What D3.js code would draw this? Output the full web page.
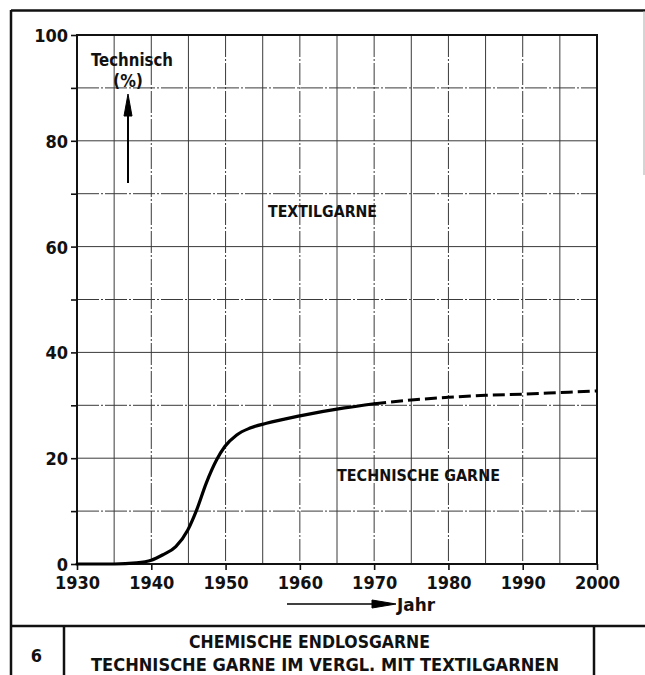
<!DOCTYPE html>
<html><head><meta charset="utf-8">
<script src="https://cdn.jsdelivr.net/npm/d3@7"></script>
<style>
html,body{margin:0;padding:0;background:#fff;}
svg text{font-family:"Liberation Sans Narrow","DejaVu Sans Condensed",sans-serif;font-weight:bold;fill:#111;}
</style></head>
<body>
<svg id="chart" width="645" height="675"></svg>
<script>
// ---- data ----
const yearsMeasured = [1930,1935,1938,1940,1941.5,1943.3,1944.9,1946.1,1947.4,1948.8,1949.9,1951.5,1953.3,1955.5,1960,1966,1970];
const valuesMeasured = [0,0,0.2,0.7,1.7,3.3,6.4,10.2,15.3,19.7,22.2,24.4,25.7,26.6,28.0,29.5,30.3];
const yearsForecast = [1970,1975,1980,1985,1990,1995,2000];
const valuesForecast = [30.3,31.0,31.5,31.9,32.1,32.4,32.7];
const xTickLabels = [1930,1940,1950,1960,1970,1980,1990,2000];
const xMinorGrid = [1935,1945,1955,1965,1975,1985,1995];
const yTickLabels = [0,20,40,60,80,100];
const yMinorGrid = [10,30,50,70,90];
const titleLines = ["CHEMISCHE ENDLOSGARNE","TECHNISCHE GARNE IM VERGL. MIT TEXTILGARNEN"];
const panelNumber = "6";

const svg = d3.select("#chart");
const x = d3.scaleLinear().domain([1930,2000]).range([77,597]);
const y = d3.scaleLinear().domain([0,100]).range([564,35]);

// ---- outer frame ----
const frame = svg.append("g").attr("stroke","#111").attr("fill","none");
frame.append("line").attr("x1",11).attr("x2",645).attr("y1",10.5).attr("y2",10.5).attr("stroke-width",2.5);
frame.append("line").attr("x1",11).attr("x2",11).attr("y1",10).attr("y2",675).attr("stroke-width",2.5);
frame.append("line").attr("x1",11).attr("x2",645).attr("y1",626).attr("y2",626).attr("stroke-width",2.5);
frame.append("line").attr("x1",64).attr("x2",64).attr("y1",626).attr("y2",675).attr("stroke-width",2.5);
frame.append("line").attr("x1",594).attr("x2",594).attr("y1",626).attr("y2",675).attr("stroke-width",2.5);
frame.append("line").attr("x1",644).attr("x2",644).attr("y1",11).attr("y2",175).attr("stroke","#aaa").attr("stroke-width",1);

// ---- grid ----
const grid = svg.append("g").attr("stroke","#3a3a3a").attr("stroke-width",1);
const allX = xTickLabels.slice(1,-1).concat(xMinorGrid);
grid.selectAll("line.v").data(allX).join("line")
  .attr("x1",d=>x(d)).attr("x2",d=>x(d)).attr("y1",y(100)).attr("y2",y(0))
  .attr("stroke-dasharray",d=>xTickLabels.includes(d)?"22,2,2,2":null);
const allY = yTickLabels.slice(1,-1).concat(yMinorGrid);
grid.selectAll("line.h").data(allY).join("line")
  .attr("x1",x(1930)).attr("x2",x(2000)).attr("y1",d=>y(d)).attr("y2",d=>y(d))
  .attr("stroke-dasharray",d=>yMinorGrid.includes(d)?"22,2,2,2":null);

// ---- axes ----
const yAxis = svg.append("g").attr("transform",`translate(${x(1930)},0)`)
  .call(d3.axisLeft(y).tickValues(yTickLabels.concat(yMinorGrid)).tickSize(6).tickPadding(3)
    .tickFormat(d=>yTickLabels.includes(d)?d:""));
const xAxis = svg.append("g").attr("transform",`translate(0,${y(0)})`)
  .call(d3.axisBottom(x).tickValues(xTickLabels).tickSize(6).tickPadding(6).tickFormat(d3.format("d")));
[yAxis,xAxis].forEach(a=>{
  a.select(".domain").remove();
  a.selectAll(".tick line").attr("stroke","#111").attr("stroke-width",1.6);
  a.selectAll("text").attr("font-size",18).attr("fill","#111").attr("font-weight","bold")
   .attr("font-family",'"Liberation Sans Narrow","DejaVu Sans Condensed",sans-serif');
});
yAxis.selectAll("text").attr("dy","0.36em");
xAxis.selectAll("text").attr("dy","0.72em");
// plot frame
svg.append("rect").attr("x",x(1930)).attr("y",y(100)).attr("width",x(2000)-x(1930)).attr("height",y(0)-y(100))
  .attr("fill","none").attr("stroke","#111").attr("stroke-width",2);

// ---- curves ----
const line = d3.line().x(d=>x(d[0])).y(d=>y(d[1])).curve(d3.curveMonotoneX);
svg.append("path").datum(d3.zip(yearsMeasured,valuesMeasured)).attr("d",line)
  .attr("fill","none").attr("stroke","#000").attr("stroke-width",3.2).attr("stroke-linecap","round");
svg.append("path").datum(d3.zip(yearsForecast,valuesForecast)).attr("d",line)
  .attr("fill","none").attr("stroke","#000").attr("stroke-width",3).attr("stroke-dasharray","12,5");

// ---- labels ----
function label(txt,x0,base,w,size,anchor){
  return svg.append("text").attr("x",x0).attr("y",base).attr("font-size",size)
    .attr("text-anchor",anchor||"start")
    .attr("textLength",w).attr("lengthAdjust","spacingAndGlyphs").text(txt);
}
label("Technisch",91,66,82,18);
label("(%)",128,87,30,18,"middle");
label("TEXTILGARNE",268,217,109,16.5);
label("TECHNISCHE GARNE",337,481,163,16.5);
label("Jahr",397,611,38,18);
// arrows
const arr = svg.append("g").attr("fill","#000").attr("stroke","#000");
arr.append("line").attr("x1",128).attr("x2",128).attr("y1",183).attr("y2",112).attr("stroke-width",2);
arr.append("path").attr("d","M128,94 L124,116 L132,116 Z").attr("stroke-width",1);
arr.append("line").attr("x1",287).attr("x2",378).attr("y1",604).attr("y2",604).attr("stroke-width",1.6);
arr.append("path").attr("d","M396,604 L372,600 L372,608 Z").attr("stroke-width",1);

// ---- title block ----
svg.append("text").attr("x",36.5).attr("y",662).attr("font-size",18).attr("text-anchor","middle").text(panelNumber);
label(titleLines[0],189,648,241,18);
label(titleLines[1],91,671,468,18);
</script>
</body></html>
